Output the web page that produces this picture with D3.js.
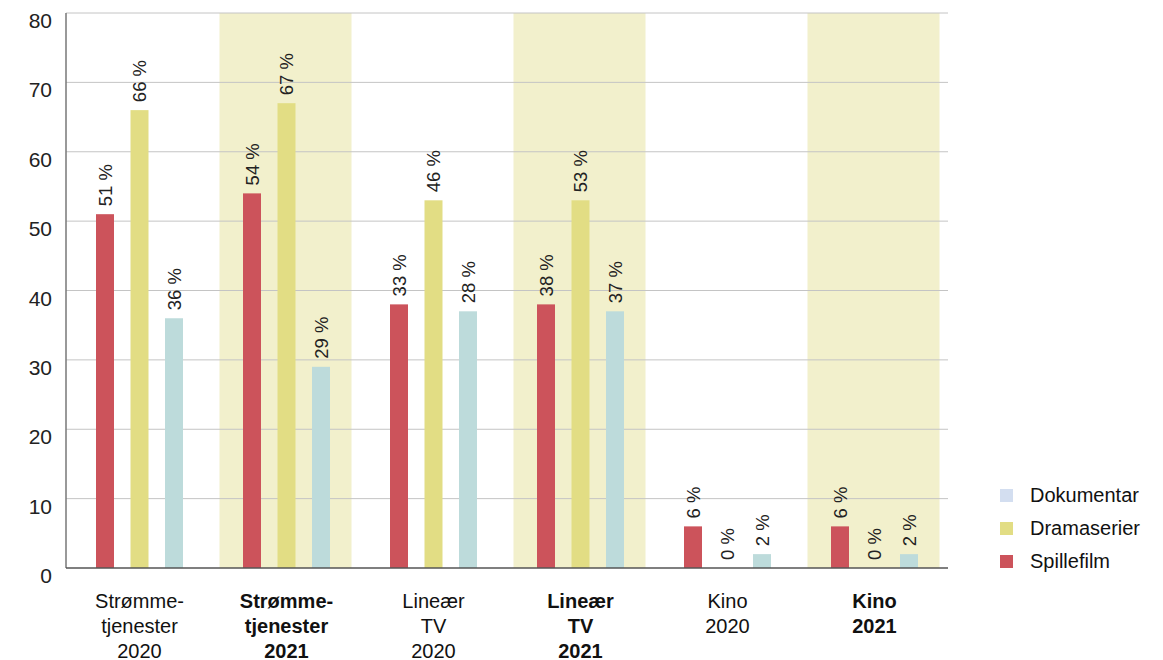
<!DOCTYPE html>
<html lang="no">
<head>
  <meta charset="UTF-8">
  <title>Spillefilm, dramaserier og dokumentar</title>
  <script src="https://d3js.org/d3.v7.min.js"></script>
  <style>
    body { margin: 0; background: #fff; font-family: "Liberation Sans", Arial, sans-serif; }
    svg { display: block; }
  </style>
</head>
<body>
  <div id="chart"></div>
  <script>
    // Data
    const groups = ["s2020", "s2021", "l2020", "l2021", "k2020", "k2021"];
    const groupLines = [
      ["Strømme-", "tjenester", "2020"],
      ["Strømme-", "tjenester", "2021"],
      ["Lineær", "TV", "2020"],
      ["Lineær", "TV", "2021"],
      ["Kino", "2020"],
      ["Kino", "2021"]
    ];
    const highlighted = [false, true, false, true, false, true];
    const seriesNames = ["Spillefilm", "Dramaserier", "Dokumentar"];
    // bar heights as drawn in the original
    const spillefilm = [51, 54, 38, 38, 6, 6];
    const dramaserier = [66, 67, 53, 53, 0, 0];
    const dokumentar = [36, 29, 37, 37, 2, 2];
    // printed labels
    const spillefilmLabel = [51, 54, 33, 38, 6, 6];
    const dramaserierLabel = [66, 67, 46, 53, 0, 0];
    const dokumentarLabel = [36, 29, 28, 37, 2, 2];
    const yTicks = [0, 10, 20, 30, 40, 50, 60, 70, 80];

    const colors = { Spillefilm: "#cc535b", Dramaserier: "#e2dd84", Dokumentar: "#bddbdb" };
    const legendColors = { Dokumentar: "#d3def0", Dramaserier: "#e2dd84", Spillefilm: "#cc535b" };
    const legendOrder = ["Dokumentar", "Dramaserier", "Spillefilm"];

    const width = 1163, height = 660;
    const plotLeft = 66, plotRight = 948, plotTop = 13, plotBottom = 568;

    const svg = d3.select("#chart").append("svg")
      .attr("width", width).attr("height", height);

    const x = d3.scaleBand().domain(groups).range([plotLeft, plotRight]);
    const xs = d3.scalePoint().domain(seriesNames).range([-34.5, 34.5]);
    const y = d3.scaleLinear().domain([0, 80]).range([plotBottom, plotTop]);

    // highlight bands
    svg.selectAll(".band")
      .data(groups.filter((g, i) => highlighted[i]))
      .enter().append("rect")
      .attr("x", d => x(d) + x.bandwidth() / 2 - 67)
      .attr("y", plotTop)
      .attr("width", 132)
      .attr("height", plotBottom - plotTop)
      .attr("fill", "#f2f0cc");

    // grid
    svg.selectAll(".grid")
      .data(yTicks.filter(t => t > 0))
      .enter().append("line")
      .attr("x1", plotLeft).attr("x2", plotRight)
      .attr("y1", d => y(d)).attr("y2", d => y(d))
      .attr("stroke", "#c4c4c4").attr("stroke-width", 1);

    // y tick labels
    svg.selectAll(".ytick")
      .data(yTicks)
      .enter().append("text")
      .attr("x", 52)
      .attr("y", d => y(d) + 15)
      .attr("text-anchor", "end")
      .attr("font-size", "21px")
      .attr("fill", "#222")
      .text(d => d);

    // bars
    const series = [
      { name: "Spillefilm", values: spillefilm, labels: spillefilmLabel },
      { name: "Dramaserier", values: dramaserier, labels: dramaserierLabel },
      { name: "Dokumentar", values: dokumentar, labels: dokumentarLabel }
    ];
    const barW = 18;
    series.forEach(s => {
      const cx = g => x(g) + x.bandwidth() / 2 + xs(s.name);
      svg.append("g").selectAll("rect")
        .data(groups)
        .enter().append("rect")
        .attr("x", (g) => cx(g) - barW / 2)
        .attr("y", (g, i) => y(s.values[i]))
        .attr("width", barW)
        .attr("height", (g, i) => y(0) - y(s.values[i]))
        .attr("fill", colors[s.name]);

      svg.append("g").selectAll("text")
        .data(groups)
        .enter().append("text")
        .attr("transform", (g, i) => `translate(${cx(g) + 6.5},${y(s.values[i]) - 8}) rotate(-90)`)
        .attr("font-size", "18.5px")
        .attr("fill", "#222")
        .text((g, i) => s.labels[i] + " %");
    });

    // axes lines
    svg.append("line")
      .attr("x1", plotLeft).attr("x2", plotLeft).attr("y1", plotTop).attr("y2", plotBottom)
      .attr("stroke", "#777").attr("stroke-width", 1.5);
    svg.append("line")
      .attr("x1", plotLeft).attr("x2", plotRight).attr("y1", plotBottom).attr("y2", plotBottom)
      .attr("stroke", "#555").attr("stroke-width", 1.5);

    // x labels
    groups.forEach((g, i) => {
      const t = svg.append("text")
        .attr("x", x(g) + x.bandwidth() / 2)
        .attr("y", 608)
        .attr("text-anchor", "middle")
        .attr("font-size", "20px")
        .attr("font-weight", highlighted[i] ? "bold" : "normal")
        .attr("fill", "#111");
      groupLines[i].forEach((line, j) => {
        t.append("tspan")
          .attr("x", x(g) + x.bandwidth() / 2)
          .attr("dy", j === 0 ? 0 : 25)
          .text(line);
      });
    });

    // legend
    const legend = svg.append("g").attr("transform", "translate(1000,489)");
    legendOrder.forEach((name, i) => {
      legend.append("rect")
        .attr("x", 0).attr("y", i * 33)
        .attr("width", 13).attr("height", 13)
        .attr("fill", legendColors[name]);
      legend.append("text")
        .attr("x", 30).attr("y", i * 33 + 13)
        .attr("font-size", "20px")
        .attr("fill", "#111")
        .text(name);
    });
  </script>
</body>
</html>
